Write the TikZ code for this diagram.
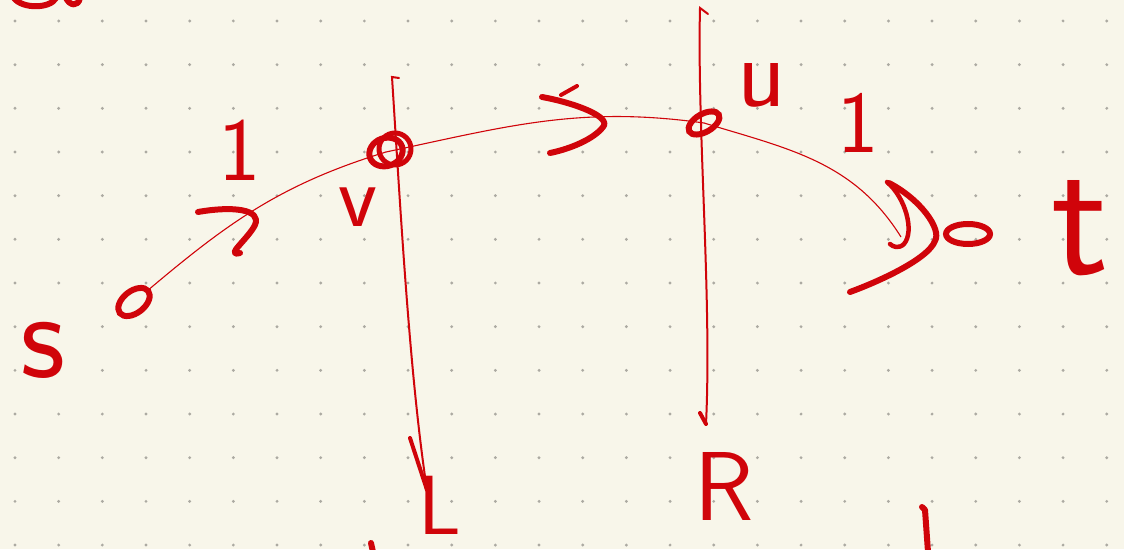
\documentclass[tikz,border=0pt]{standalone}
\usepackage{tikz}
\usetikzlibrary{shapes.geometric}

\definecolor{paper}{RGB}{248,246,234}
\definecolor{dotgray}{RGB}{172,170,162}
\definecolor{ink}{RGB}{208,4,10}

\tikzset{
  pen/.style={draw=ink,line width=6pt,line cap=round,line join=round},
  edge/.style={draw=ink,line width=1.1pt},
  cut/.style={draw=ink,line width=2pt,line cap=round},
  vertex/.style={ellipse,draw=ink,line width=6pt,inner sep=0pt,outer sep=0pt},
  lbl/.style={text=ink,inner sep=0pt,font=\sffamily\fontsize{#1}{#1}\selectfont},
  lbl/.default=90
}

\begin{document}
\begin{tikzpicture}[x=1pt,y=1pt]
		\useasboundingbox (0,0) rectangle (1124,549);
		\clip (0,0) rectangle (1124,549);
		\fill[paper] (0,0) rectangle (1124,549);
		% dotted page
		\foreach \i in {0,...,25}
		    \foreach \j in {0,...,12}
		        \fill[dotgray] ({15+43.67*\i},{528-43.67*\j}) circle (1.6);

		\node[vertex,minimum width=36pt,minimum height=22pt,rotate=38] (s) at (134,247) {};
		\node[vertex,minimum width=34pt,minimum height=28pt,rotate=20] (v) at (386,397) {};
		\node[vertex,minimum width=34pt,minimum height=18pt,rotate=30] (u) at (704,426) {};
		\node[vertex,minimum width=44pt,minimum height=20pt] (t) at (968,315) {};
		% extra scribble round v
		\draw[pen,line width=5pt] (395,400) circle (16);

		\coordinate (thead) at (901,312);
		\coordinate (vtop) at (392,472);
		\coordinate (vend) at (427,59);
		\coordinate (utop) at (700,541);
		\coordinate (uend) at (706,125);

		% edges
		\begin{scope}[every path/.style={edge}]
		    \path (s) to[out=36,in=197] (v.center);
		    \path (v.center) to[out=12,in=172] (u.center);
		    \path (u.center) to[out=-17,in=122] (thead);
		\end{scope}

		% arrow marks on the edges
		\draw[pen] (198,337) .. controls (232,343) and (262,340) .. (255,324)
		           .. controls (248,310) and (224,292) .. (240,296);
		\draw[pen] (542,452) .. controls (575,446) and (612,432) .. (603,422)
		           .. controls (594,410) and (570,400) .. (550,396);
		\draw[pen,line width=4pt] (561,454) -- (577,463);
		\draw[pen,line width=4.5pt] (887,367) .. controls (905,352) and (915,318) .. (904,305)
		           .. controls (899,300) and (893,302) .. (890,305);
		\draw[pen] (889,366) .. controls (920,350) and (942,320) .. (935,308)
		           .. controls (928,290) and (880,268) .. (850,257);

		% the two cuts
		\draw[cut] (399,471) -- (vtop) .. controls (401,330) and (410,170) .. (vend);
		\draw[cut,line width=4pt] (vend) -- (410,111);
		\draw[cut] (708,535) -- (utop) .. controls (697,420) and (712,250) .. (uend);
		\draw[cut,line width=4pt] (uend) -- (700,136);

		% labels
		\node[lbl=125] (slbl) at (43,199) {s};
		\node[lbl=90] (c1) at (240,399) {1};
		\node[lbl=90] (vlbl) at (358,342) {v};
		\node[lbl=100] (ulbl) at (762,464) {u};
		\node[lbl=88] (c2) at (858,426) {1};
		\node[lbl=170] (tlbl) at (1080,321) {t};
		\node[lbl=84] (L) at (440,44) {L};
		\node[lbl=98] (R) at (724,63) {R};

		% strokes cut off at the page edges
		\draw[pen] (14,551) .. controls (22,540) and (50,540) .. (56,551);
		\draw[pen] (66,551) .. controls (70,543) and (78,542) .. (80,551);
		\draw[pen] (922,42) -- (925,39) -- (928,-3);
		\draw[pen] (371,6) -- (373,-3);
\end{tikzpicture}
\end{document}
